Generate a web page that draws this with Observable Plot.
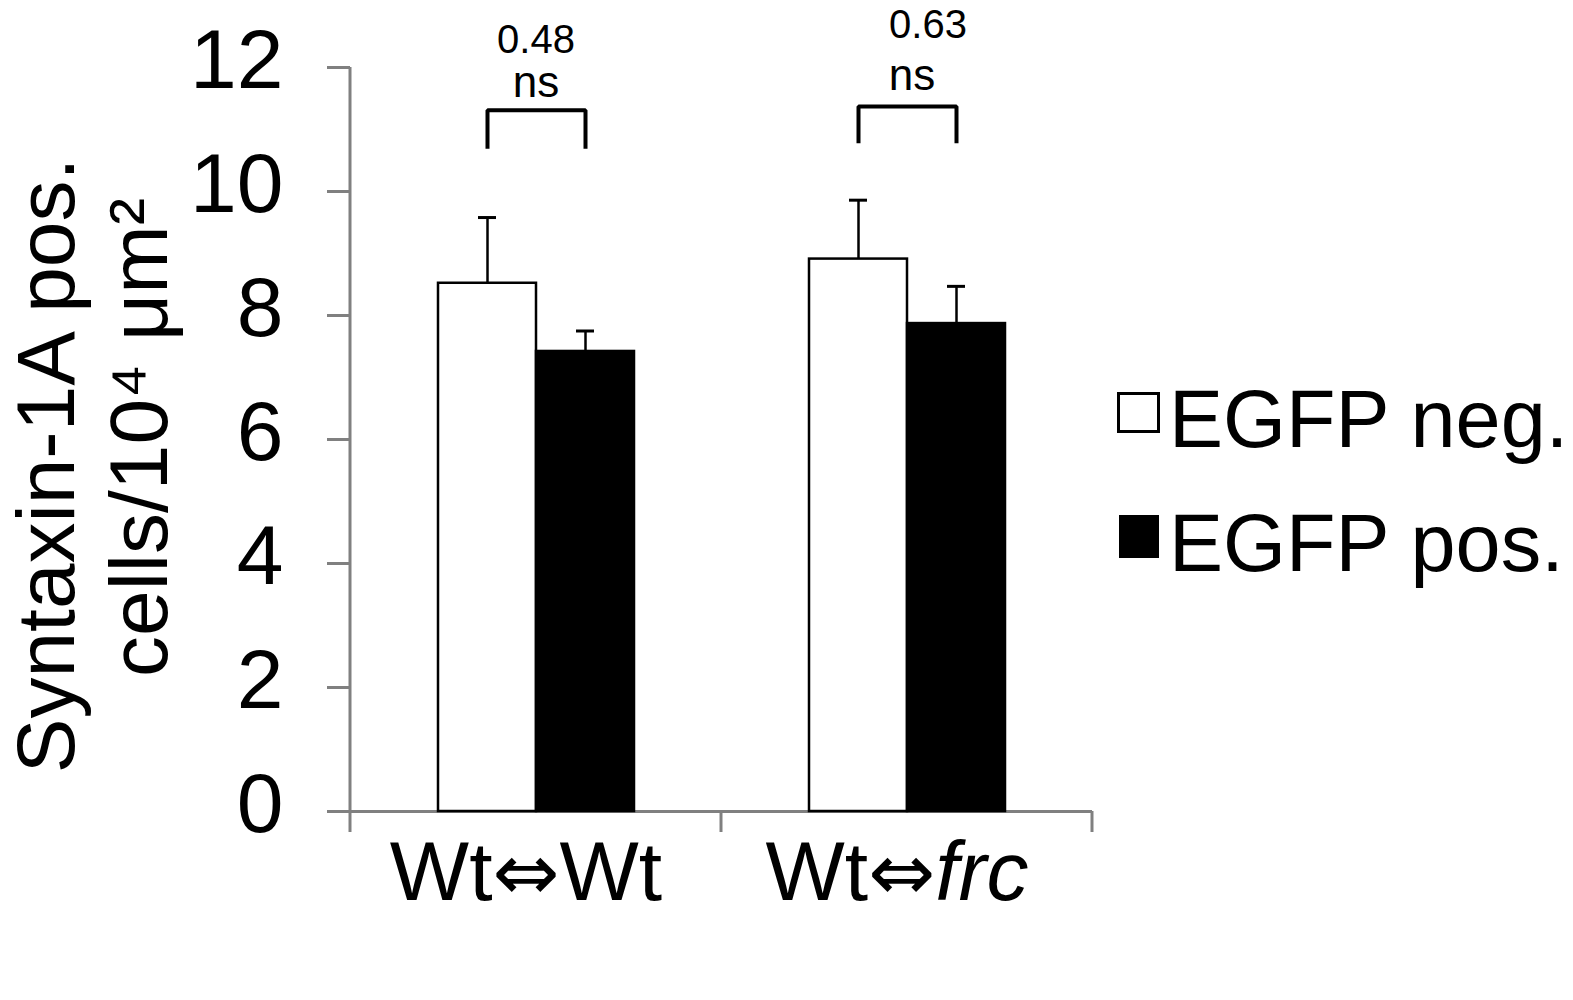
<!DOCTYPE html>
<html><head><meta charset="utf-8">
<script src="https://cdn.jsdelivr.net/npm/d3@7"></script>
<script src="https://cdn.jsdelivr.net/npm/@observablehq/plot@0.6"></script>
<style>
body{margin:0;background:#fff;font-family:"Liberation Sans",Arial,sans-serif;}
#wrap{position:relative;width:1573px;height:1000px;overflow:hidden;}
.lg-box{position:absolute;box-sizing:border-box;}
.lg-text{position:absolute;font-size:81px;line-height:81px;white-space:nowrap;color:#000;}
</style></head><body><div id="wrap"></div>
<script>
const groups = ["Wt⇔Wt", "Wt⇔frc"];
const series = ["EGFP neg.", "EGFP pos."];
const seriesFill = ["white", "black"];
const meanNeg = [8.52, 8.91];
const meanPos = [7.42, 7.87];
const semNeg = [1.06, 0.95];
const semPos = [0.33, 0.60];
const pValues = ["0.48", "0.63"];
const sigLabels = ["ns", "ns"];
const pLabelY = [12.24, 12.48];
const sigLabelY = [11.52, 11.63];
const bracketTop = [11.31, 11.37];
const bracketBottom = [10.69, 10.78];
const yTicks = [0, 2, 4, 6, 8, 10, 12];
const yLabel = ["Syntaxin-1A pos.", "cells/10⁴ μm²"];

const table = [];
groups.forEach((g, i) => {
  table.push({group: g, series: series[0], mean: meanNeg[i], sem: semNeg[i]});
  table.push({group: g, series: series[1], mean: meanPos[i], sem: semPos[i]});
});
const brackets = [];
groups.forEach((g, i) => {
  brackets.push({group: g, series: series[0], v: bracketBottom[i]});
  brackets.push({group: g, series: series[0], v: bracketTop[i]});
  brackets.push({group: g, series: series[1], v: bracketTop[i]});
  brackets.push({group: g, series: series[1], v: bracketBottom[i]});
});
const annot = groups.map((g, i) => ({group: g, p: pValues[i], py: pLabelY[i], s: sigLabels[i], sy: sigLabelY[i]}));
const font = "Liberation Sans, Arial, sans-serif";
const gray = "#808080";

const chart = Plot.plot({
  width: 1573,
  height: 1000,
  marginLeft: 350,
  marginRight: 481,
  marginTop: 67,
  marginBottom: 189,
  style: {fontFamily: font, background: "white", color: "black"},
  fx: {domain: groups, padding: 0},
  x: {domain: series, paddingInner: 0, paddingOuter: 0.88, axis: null},
  y: {domain: [0, 12]},
  color: {domain: series, range: seriesFill},
  marks: [
    Plot.ruleY([0], {stroke: gray, strokeWidth: 3}),
    Plot.axisY({ticks: yTicks, tickSize: 23, tickFormat: () => "", stroke: gray, strokeWidth: 3, label: null}),
    Plot.axisY({ticks: yTicks, tickSize: 0, tickPadding: 67, fontSize: 84, fill: "black", dy: -6, label: null}),
    Plot.axisFx({anchor: "bottom", tickSize: 0, tickPadding: 29, fontSize: 84, fill: "black", dx: -10, label: null}),
    Plot.barY(table, {fx: "group", x: "series", y: "mean", fill: "series", stroke: "black", strokeWidth: 2.5}),
    Plot.ruleX(table, {fx: "group", x: "series", y1: "mean", y2: d => d.mean + d.sem, stroke: "black", strokeWidth: 2.5}),
    Plot.tickY(table, {fx: "group", x: "series", y: d => d.mean + d.sem, stroke: "black", strokeWidth: 3, insetLeft: 40, insetRight: 40}),
    Plot.line(brackets, {fx: "group", x: "series", y: "v", z: "group", stroke: "black", strokeWidth: 4, strokeLinejoin: "miter", strokeLinecap: "butt"}),
    Plot.text(annot.filter((d, i) => i === 0), {fx: "group", y: "py", text: "p", fontSize: 40, lineAnchor: "bottom", fill: "black"}),
    Plot.text(annot.filter((d, i) => i === 1), {fx: "group", y: "py", text: "p", fontSize: 40, lineAnchor: "bottom", fill: "black", dx: 21}),
    Plot.text(annot.filter((d, i) => i === 0), {fx: "group", y: "sy", text: "s", fontSize: 44, lineAnchor: "bottom", fill: "black"}),
    Plot.text(annot.filter((d, i) => i === 1), {fx: "group", y: "sy", text: "s", fontSize: 44, lineAnchor: "bottom", fill: "black", dx: 5}),
    Plot.text([{group: groups[0], t: yLabel[0]}], {fx: "group", text: "t", frameAnchor: "left", textAnchor: "middle", rotate: -90, lineAnchor: "bottom", fontSize: 82, dx: -277, dy: 26, fill: "black"}),
    Plot.text([{group: groups[0], t: yLabel[1]}], {fx: "group", text: "t", frameAnchor: "left", textAnchor: "middle", rotate: -90, lineAnchor: "bottom", fontSize: 82, dx: -184, dy: -2, fill: "black"})
  ]
});

document.getElementById("wrap").appendChild(chart);

// axis lines drawn from the library's own scales
const fxS = chart.scale("fx");
const yS = chart.scale("y");
const svg = d3.select(chart);
const y0 = yS.apply(0), yTop = yS.apply(12);
const edges = groups.map(g => fxS.apply(g)).concat([fxS.apply(groups[groups.length - 1]) + fxS.bandwidth]);
const ax = svg.append("g").attr("stroke", gray).attr("stroke-width", 3);
ax.append("line").attr("x1", edges[0]).attr("x2", edges[0]).attr("y1", yTop).attr("y2", y0);
edges.forEach(x => ax.append("line").attr("x1", x).attr("x2", x).attr("y1", y0).attr("y2", y0 + 21));

// group labels: arrow glyph from DejaVu Sans, genotype "frc" in italics
svg.selectAll("text").each(function() {
  const t = d3.select(this);
  if (this.childElementCount !== 0) return;
  const s = t.text();
  if (!groups.includes(s)) return;
  const parts = s.split("⇔");
  t.text(parts[0]);
  t.append("tspan").attr("font-family", "DejaVu Sans").attr("font-size", 80).text("⇔");
  const rest = t.append("tspan").text(parts[1]);
  if (parts[1] === "frc") rest.attr("font-style", "italic");
});

// legend
const wrap = document.getElementById("wrap");
const boxes = [{left: 1117, top: 392, w: 43, h: 41}, {left: 1119, top: 515, w: 40, h: 43}];
const texts = [{left: 1169, top: 379}, {left: 1169, top: 503}];
series.forEach((s, i) => {
  const b = document.createElement("div");
  b.className = "lg-box";
  Object.assign(b.style, {left: boxes[i].left + "px", top: boxes[i].top + "px", width: boxes[i].w + "px", height: boxes[i].h + "px",
    background: seriesFill[i], border: "3px solid black"});
  wrap.appendChild(b);
  const t = document.createElement("div");
  t.className = "lg-text";
  t.style.left = texts[i].left + "px";
  t.style.top = texts[i].top + "px";
  t.textContent = s;
  wrap.appendChild(t);
});
</script></body></html>
